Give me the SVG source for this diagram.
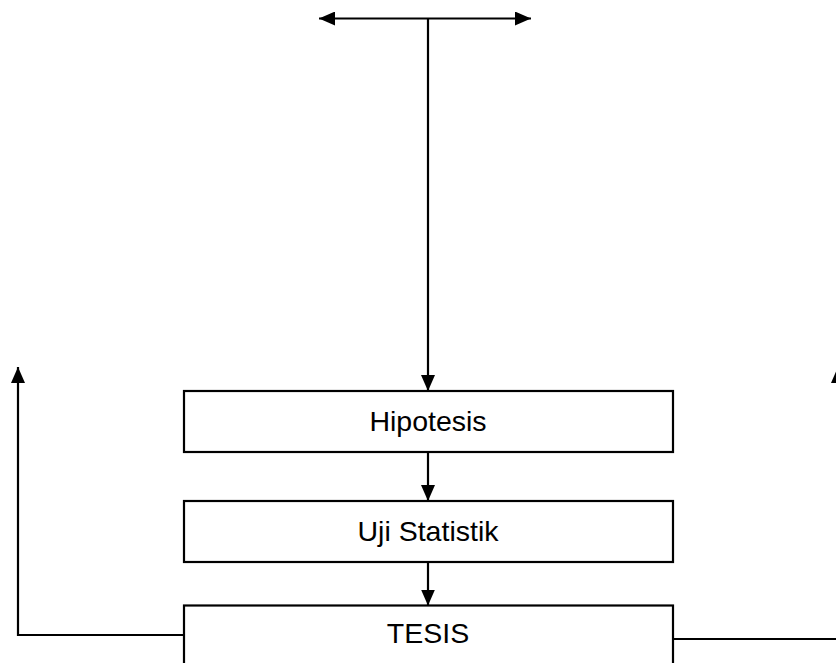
<svg xmlns="http://www.w3.org/2000/svg" width="836" height="663" viewBox="0 0 836 663">
<style>
.box{fill:#fff;stroke:#000;stroke-width:2.2}
.ln{fill:none;stroke:#000;stroke-width:2.2}
.t{font-family:"Liberation Sans",Arial,sans-serif;font-size:28.5px;text-anchor:middle;fill:#000}
</style>
<defs>
<marker id="ah" viewBox="0 0 16 14" refX="16" refY="7" markerWidth="16" markerHeight="14" markerUnits="userSpaceOnUse" orient="auto-start-reverse">
<path d="M0,0 L16,7 L0,14 Z" fill="#000"/>
</marker>
</defs>
<rect width="836" height="663" fill="#fff"/>
<g id="connectors">
<line class="ln" x1="319" y1="18.5" x2="531" y2="18.5" marker-start="url(#ah)" marker-end="url(#ah)"/>
<line class="ln" x1="428" y1="18.5" x2="428" y2="391" marker-end="url(#ah)"/>
<line class="ln" x1="428" y1="452" x2="428" y2="501" marker-end="url(#ah)"/>
<line class="ln" x1="428" y1="562" x2="428" y2="605.5" marker-end="url(#ah)"/>
<polyline class="ln" points="184,635 18,635 18,367" marker-end="url(#ah)"/>
<polyline class="ln" points="673,639 838,639 838,367" marker-end="url(#ah)"/>
</g>
<g id="hipotesis">
<rect class="box" x="184" y="391" width="489" height="61"/>
<text class="t" x="428" y="431">Hipotesis</text>
</g>
<g id="uji">
<rect class="box" x="184" y="501" width="489" height="61"/>
<text class="t" x="428" y="541">Uji Statistik</text>
</g>
<g id="tesis">
<rect class="box" x="184" y="605.5" width="489" height="70"/>
<text class="t" x="428" y="643">TESIS</text>
</g>
</svg>
